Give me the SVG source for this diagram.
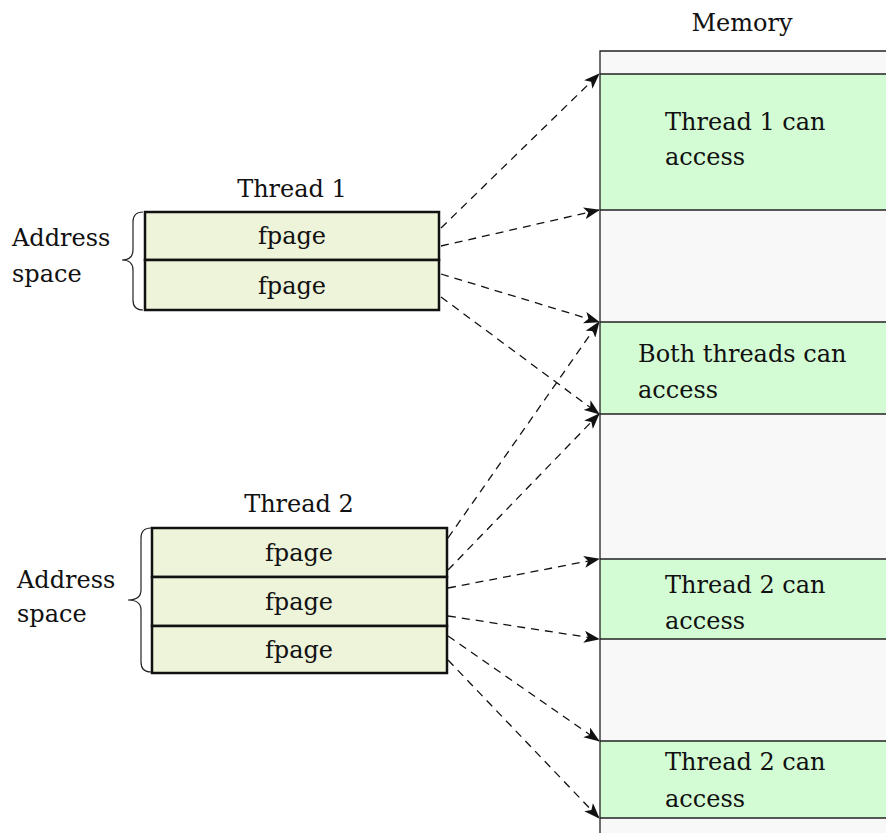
<svg xmlns="http://www.w3.org/2000/svg" width="886" height="833" viewBox="0 0 886 833">
<style>
text{font-family:"DejaVu Serif","Liberation Serif",serif;font-size:24px;fill:#111}
.c{text-anchor:middle}
.page{fill:#eef4da;stroke:#111;stroke-width:2.5}
.gray{fill:#f8f8f8;stroke:none}
.green{fill:#d4fcd4;stroke:none}
.sep{stroke:#222;stroke-width:1.3;fill:none}
.brace{fill:none;stroke:#222;stroke-width:1.2}
.conn{fill:none;stroke:#111;stroke-width:1.3;stroke-dasharray:8 6;marker-end:url(#ah)}
</style>
<defs>
<marker id="ah" markerUnits="userSpaceOnUse" viewBox="0 0 16 12" markerWidth="16" markerHeight="12" refX="15" refY="6" orient="auto">
<path d="M0,0 L16,6 L0,12 L4,6 z" fill="#111"/>
</marker>
</defs>
<rect width="886" height="833" fill="#fff"/>
<g id="memory">
<rect class="gray" x="600" y="51" width="286" height="782"/>
<rect class="green" x="600" y="74" width="286" height="136"/>
<rect class="green" x="600" y="322" width="286" height="92"/>
<rect class="green" x="600" y="559" width="286" height="80"/>
<rect class="green" x="600" y="741" width="286" height="77"/>
<path class="sep" d="M600,833 V51 H886 M600,74 H886 M600,210 H886 M600,322 H886 M600,414 H886 M600,559 H886 M600,639 H886 M600,741 H886 M600,818 H886"/>
<text class="c" x="742" y="31">Memory</text>
<text x="665" y="130">Thread 1 can</text>
<text x="665" y="165">access</text>
<text x="638" y="362">Both threads can</text>
<text x="638" y="398">access</text>
<text x="665" y="593">Thread 2 can</text>
<text x="665" y="629">access</text>
<text x="665" y="770">Thread 2 can</text>
<text x="665" y="807">access</text>
</g>
<g id="thread1">
<text class="c" x="292" y="197">Thread 1</text>
<rect class="page" x="145" y="212" width="294" height="48"/>
<rect class="page" x="145" y="260" width="294" height="50"/>
<text class="c" x="292" y="244">fpage</text>
<text class="c" x="292" y="294">fpage</text>
<path class="brace" d="M143,212 Q133,212 133,222 L133,250 Q133,260 122,260 Q133,260 133,270 L133,300 Q133,310 143,310"/>
<text x="12" y="246">Address</text>
<text x="12" y="282">space</text>
</g>
<g id="thread2">
<text class="c" x="299" y="512">Thread 2</text>
<rect class="page" x="152" y="528" width="295" height="49"/>
<rect class="page" x="152" y="577" width="295" height="49"/>
<rect class="page" x="152" y="626" width="295" height="47"/>
<text class="c" x="299" y="561">fpage</text>
<text class="c" x="299" y="610">fpage</text>
<text class="c" x="299" y="658">fpage</text>
<path class="brace" d="M151,528 Q141,528 141,538 L141,590 Q141,600 128,600 Q141,600 141,610 L141,662 Q141,672 151,672"/>
<text x="17" y="588">Address</text>
<text x="17" y="622">space</text>
</g>
<g id="connectors">
<path class="conn" d="M441,228 L599,74"/>
<path class="conn" d="M441,246 L599,210"/>
<path class="conn" d="M441,274 L599,322"/>
<path class="conn" d="M441,297 L599,414"/>
<path class="conn" d="M448,538 L599,322"/>
<path class="conn" d="M448,570 L599,414"/>
<path class="conn" d="M448,588 L599,559"/>
<path class="conn" d="M448,616 L599,639"/>
<path class="conn" d="M448,636 L599,741"/>
<path class="conn" d="M448,660 L599,818"/>
</g>
</svg>
